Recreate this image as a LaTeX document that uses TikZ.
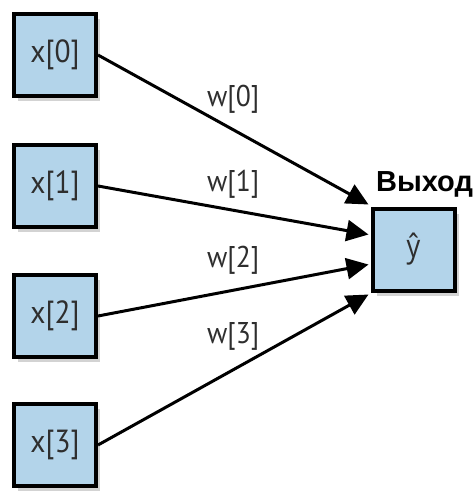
\documentclass[tikz,border=0pt]{standalone}
\usepackage{fontspec}
\newfontfamily\boxfont{PT Sans}[FakeStretch=0.92]
\newfontfamily\hatfont{Open Sans}[FakeStretch=0.85]
\newfontfamily\headfont{Liberation Sans}
\usetikzlibrary{arrows.meta, shadows, calc, positioning}
\definecolor{cellblue}{HTML}{B3D4EA}
\definecolor{inkgray}{HTML}{2E2E2E}

\begin{document}
\begin{tikzpicture}[x=1pt, y=-1pt,
		cell/.style={draw, line width=4pt, fill=cellblue, minimum size=82pt, inner sep=0pt,
			text=inkgray, font=\boxfont\fontsize{32}{32}\selectfont,
			drop shadow={shadow xshift=4pt, shadow yshift=-5pt, opacity=0.35}},
		wire/.style={line width=3pt, -{Triangle[length=22pt, width=21pt]}},
		wlabel/.style={text=inkgray, font=\boxfont\fontsize{30}{30}\selectfont, inner sep=0pt}]
		\useasboundingbox (0,0) rectangle (476,491);
		% inputs
		\foreach \i/\y in {0/55, 1/186, 2/316, 3/445} {
			\node[cell] (in\i) at (55,\y) {x[\i]};
		}
		% output
		\node[cell, font=\hatfont\fontsize{32}{32}\selectfont] (out) at (413.5,249.5) {ŷ};
		\node[font=\headfont\bfseries\fontsize{29}{29}\selectfont, above=6pt of out, xshift=11pt] (head) {Выход};
		% weights
		\foreach \i/\d in {0/30, 1/26, 2/30, 3/33} {
			\coordinate (tip\i) at ($(out.west)+(-2,{30*\i-45})$);
			\draw[wire] (in\i.east) -- (tip\i)
				node[wlabel, pos=0.5, yshift=\d pt] (w\i) {w[\i]};
		}
	\end{tikzpicture}
\end{document}
